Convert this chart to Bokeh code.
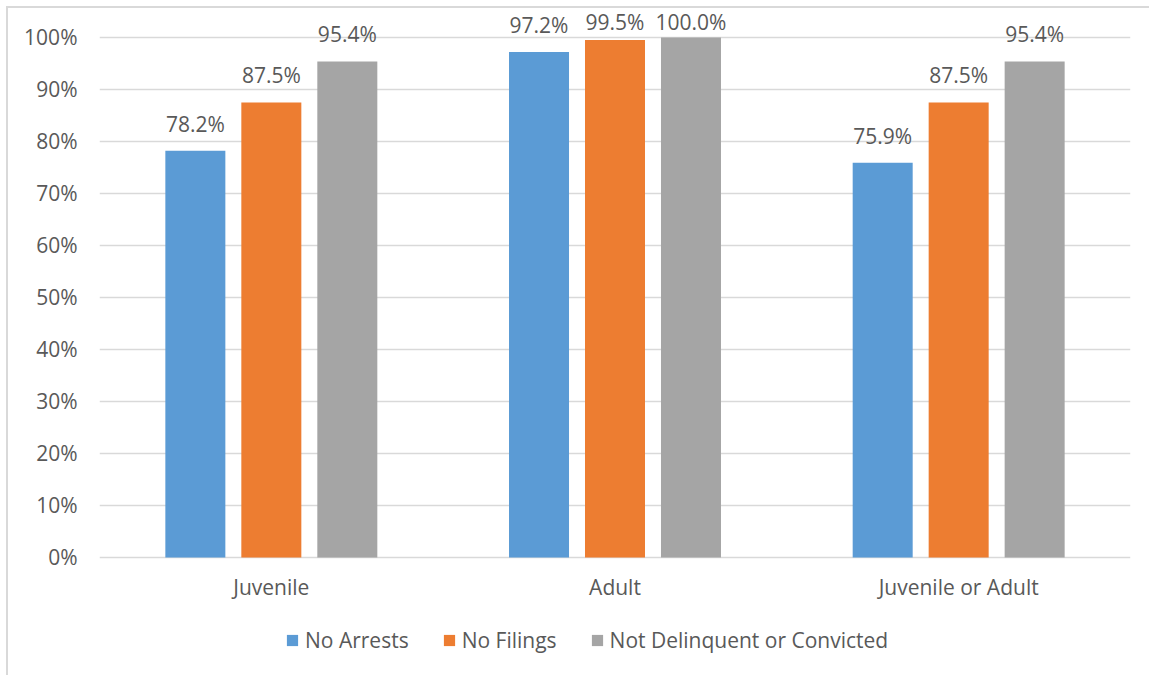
import numpy as np
from bokeh.plotting import figure
from bokeh.models import (ColumnDataSource, FactorRange, Range1d, FixedTicker,
                          NumeralTickFormatter, Legend, LegendItem)
from bokeh.transform import dodge
from bokeh.core.properties import value
from bokeh.embed import file_html
from bokeh.resources import INLINE

categories = ["Juvenile", "Adult", "Juvenile or Adult"]
series_names = ["No Arrests", "No Filings", "Not Delinquent or Convicted"]
no_arrests = [0.782, 0.972, 0.759]
no_filings = [0.875, 0.995, 0.875]
not_delinquent = [0.954, 1.000, 0.954]
y_ticks = [0.0, 0.1, 0.2, 0.3, 0.4, 0.5, 0.6, 0.7, 0.8, 0.9, 1.0]

colors = ["#5B9BD5", "#ED7D31", "#A5A5A5"]
FONT = "Open Sans"
TXT = "#595959"
FS = "21px"

p = figure(x_range=FactorRange(*categories), y_range=Range1d(-0.2308, 1.048),
           width=1143, height=669, output_backend="svg", toolbar_location=None,
           min_border_left=91, min_border_right=21, min_border_top=4,
           min_border_bottom=0)
p.margin = (6, 0, 0, 6)
p.styles = {"border-left": "2px solid #D9D9D9", "border-top": "2px solid #D9D9D9"}
p.outline_line_color = None
p.background_fill_color = "white"
p.border_fill_color = "white"

offsets = [-0.2211, 0.0, 0.2211]
bar_w = 0.1746
items = []
for name, vals, col, off in zip(series_names, [no_arrests, no_filings, not_delinquent], colors, offsets):
    v = np.array(vals)
    src = ColumnDataSource(dict(cat=categories, val=v,
                                ly=np.minimum(v, 0.977),
                                lbl=["%.1f%%" % (x * 100) for x in v]))
    r = p.vbar(x=dodge("cat", off, range=p.x_range), top="val", width=bar_w,
               source=src, fill_color=col, line_color=None)
    p.text(x=dodge("cat", off, range=p.x_range), y="ly", text="lbl", source=src,
           text_align="center", text_baseline="middle", y_offset=-27,
           text_font=value(FONT), text_font_size=FS, text_color=TXT)
    items.append(LegendItem(label=name, renderers=[r]))

# category labels (x axis)
cat_src = ColumnDataSource(dict(cat=categories, y0=[0.0] * len(categories)))
p.text(x="cat", y="y0", text="cat", source=cat_src, text_align="center",
       text_baseline="middle", y_offset=30, text_font=value(FONT),
       text_font_size=FS, text_color=TXT)
p.xaxis.visible = False

p.yaxis.ticker = FixedTicker(ticks=y_ticks)
p.yaxis.formatter = NumeralTickFormatter(format="0%")
p.yaxis.axis_line_color = None
p.yaxis.major_tick_line_color = None
p.yaxis.minor_tick_line_color = None
p.yaxis.major_label_text_font = FONT
p.yaxis.major_label_text_font_size = FS
p.yaxis.major_label_text_color = TXT
p.yaxis.major_label_standoff = 16
p.xgrid.grid_line_color = None
p.ygrid.ticker = FixedTicker(ticks=y_ticks)
p.ygrid.grid_line_color = "#D9D9D9"
p.ygrid.grid_line_width = 1.5

legend = Legend(items=items, orientation="horizontal", location=(186, 23),
                glyph_width=14, glyph_height=14, label_standoff=6, spacing=33,
                padding=0, margin=0, border_line_color=None,
                background_fill_alpha=0,
                label_text_font=FONT, label_text_font_size=FS,
                label_text_color=TXT)
p.add_layout(legend)

open("out.html", "w").write(file_html(p, INLINE))
